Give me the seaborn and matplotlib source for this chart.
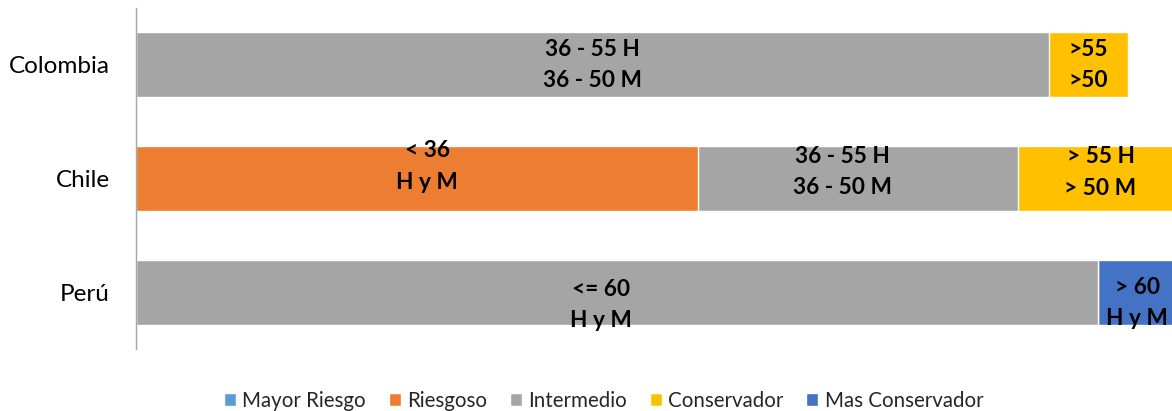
import pandas as pd
import matplotlib.pyplot as plt
import seaborn as sns
from matplotlib.patches import Patch

# data (x axis 0-100, right edge clips the bars)
countries = ['Colombia', 'Chile', 'Perú']
categories = ['Mayor Riesgo', 'Riesgoso', 'Intermedio', 'Conservador', 'Mas Conservador']
mayor_riesgo = [0, 0, 0]
riesgoso = [0, 54.2, 0]
intermedio = [88.1, 30.9, 92.9]
conservador = [7.7, 16.0, 0]
mas_conservador = [0, 0, 7.5]

lbl_riesgoso = ['', '< 36\nH y M', '']
lbl_intermedio = ['36 - 55 H\n36 - 50 M', '36 - 55 H\n36 - 50 M', '<= 60\nH y M']
lbl_conservador = ['>55\n>50', '> 55 H\n> 50 M', '']
lbl_mas_conservador = ['', '', '> 60\nH y M']

colors = ['#5B9BD5', '#ED7D31', '#A5A5A5', '#FFC000', '#4472C4']

df = pd.DataFrame({
    'pais': countries,
    'Mayor Riesgo': mayor_riesgo,
    'Riesgoso': riesgoso,
    'Intermedio': intermedio,
    'Conservador': conservador,
    'Mas Conservador': mas_conservador,
})
cum = df[categories].cumsum(axis=1)
labels = {
    'Riesgoso': lbl_riesgoso,
    'Intermedio': lbl_intermedio,
    'Conservador': lbl_conservador,
    'Mas Conservador': lbl_mas_conservador,
}

sns.set_style('white')
plt.rcParams['font.family'] = ['Lato', 'DejaVu Sans']

fig = plt.figure(figsize=(11.72, 4.11), dpi=100)
ax = fig.add_axes([136 / 1172, 1 - 349 / 411, 1 - 136 / 1172, (349 - 8) / 411])

# stacked bars: draw cumulative totals from the outermost segment inwards
for cat, col in reversed(list(zip(categories, colors))):
    if df[cat].sum() == 0:
        continue
    sns.barplot(x=cum[cat], y=df['pais'], orient='h', color=col, saturation=1,
                width=0.57, edgecolor='white', linewidth=1, ax=ax)

# label nudges (data units) to follow the reference placement
dx = {('Riesgoso', 1): 1.0, ('Intermedio', 1): -1.5, ('Intermedio', 2): -1.6}
dy = {('Riesgoso', 1): -0.105, ('Intermedio', 1): -0.057, ('Conservador', 1): -0.053,
      ('Intermedio', 2): 0.114, ('Mas Conservador', 2): 0.096}

for cat, lbls in labels.items():
    for i, txt in enumerate(lbls):
        if not txt:
            continue
        val = df[cat][i]
        left = cum[cat][i] - val
        ax.text(left + val / 2 + dx.get((cat, i), 0), i + dy.get((cat, i), 0), txt,
                ha='center', va='center', fontsize=16.3, fontweight='bold',
                linespacing=1.6, color='black')

ax.set_xlim(0, 100)
ax.set_ylim(2.5, -0.5)
ax.set_xticks([])
ax.set_xlabel('')
ax.set_ylabel('')
for s in ['top', 'right', 'bottom']:
    ax.spines[s].set_visible(False)
ax.spines['left'].set_color('#a6a6a6')
ax.spines['left'].set_linewidth(1)
ax.tick_params(axis='y', length=0, pad=19, labelsize=17.5, labelcolor='black')

handles = [Patch(facecolor=c, label=cat) for cat, c in zip(categories, colors)]
fig.legend(handles=handles, loc='lower center', bbox_to_anchor=(0.515, -0.045), ncol=5,
           frameon=False, fontsize=14.8, handlelength=0.6, handleheight=0.6,
           handletextpad=0.3, columnspacing=1.1)

fig.savefig('out.png', dpi=100)
